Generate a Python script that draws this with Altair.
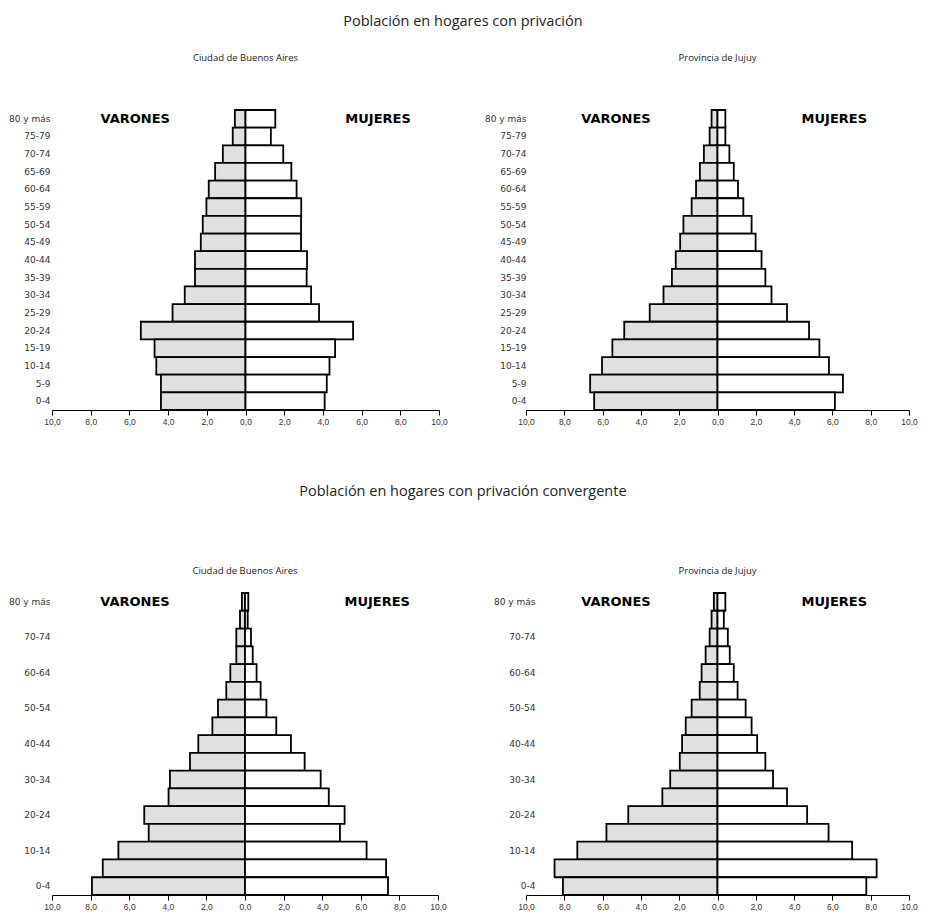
import altair as alt
import pandas as pd

ages = ["80 y más", "75-79", "70-74", "65-69", "60-64", "55-59", "50-54", "45-49",
        "40-44", "35-39", "30-34", "25-29", "20-24", "15-19", "10-14", "5-9", "0-4"]
ages_sparse = ["80 y más", "70-74", "60-64", "50-54", "40-44", "30-34", "20-24", "10-14", "0-4"]

# Población en hogares con privación
caba_priv_varones = [0.55, 0.66, 1.17, 1.57, 1.90, 2.02, 2.21, 2.31, 2.61, 2.61, 3.14, 3.77, 5.41, 4.70, 4.61, 4.37, 4.37]
caba_priv_mujeres = [1.54, 1.31, 1.95, 2.37, 2.64, 2.88, 2.87, 2.87, 3.18, 3.16, 3.39, 3.80, 5.56, 4.63, 4.34, 4.20, 4.09]
jujuy_priv_varones = [0.31, 0.41, 0.71, 0.92, 1.12, 1.35, 1.78, 1.95, 2.18, 2.38, 2.82, 3.54, 4.87, 5.49, 6.03, 6.65, 6.44]
jujuy_priv_mujeres = [0.41, 0.41, 0.62, 0.85, 1.07, 1.35, 1.78, 1.99, 2.30, 2.50, 2.82, 3.63, 4.78, 5.32, 5.82, 6.55, 6.13]

# Población en hogares con privación convergente
caba_conv_varones = [0.16, 0.26, 0.45, 0.45, 0.76, 0.97, 1.40, 1.69, 2.42, 2.85, 3.89, 3.96, 5.22, 4.99, 6.56, 7.37, 7.93]
caba_conv_mujeres = [0.17, 0.14, 0.31, 0.40, 0.60, 0.81, 1.11, 1.62, 2.38, 3.09, 3.92, 4.34, 5.16, 4.92, 6.30, 7.31, 7.41]
jujuy_conv_varones = [0.19, 0.31, 0.41, 0.62, 0.83, 0.93, 1.35, 1.66, 1.85, 1.97, 2.47, 2.88, 4.66, 5.80, 7.32, 8.51, 8.07]
jujuy_conv_mujeres = [0.41, 0.33, 0.54, 0.64, 0.85, 1.05, 1.47, 1.78, 2.07, 2.50, 2.90, 3.63, 4.68, 5.80, 7.03, 8.31, 7.77]

tick_values = [-10, -8, -6, -4, -2, 0, 2, 4, 6, 8, 10]
sex_labels = ["VARONES", "MUJERES"]

FONT = "Open Sans"


def panel(title, varones, mujeres, label_values, width, height, title_offset,
          label_pad, varones_x, mujeres_x):
    rows = []
    for a, v, m in zip(ages, varones, mujeres):
        rows.append({"edad": a, "sexo": "Varones", "valor": -v})
        rows.append({"edad": a, "sexo": "Mujeres", "valor": m})
    df = pd.DataFrame(rows)

    yaxis = alt.Axis(values=label_values, ticks=False, domain=False,
                     labelFontSize=9, labelColor="#333", labelFont="DejaVu Sans",
                     labelPadding=label_pad)
    xaxis = alt.Axis(values=tick_values, grid=False, tickSize=5, tickColor="black",
                     domainColor="black", domainWidth=1.2, labelFontSize=8.5,
                     labelColor="#333", labelFont="Liberation Sans", labelOverlap=False,
                     labelFlush=False,
                     labelExpr="replace(format(abs(datum.value), '.1f'), '.', ',')")
    yscale = alt.Scale(domain=ages, paddingInner=0, paddingOuter=0)
    xscale = alt.Scale(domain=[-10, 10], nice=False)

    bars = alt.Chart(df).mark_bar(stroke="black", strokeWidth=1.8).encode(
        x=alt.X("valor:Q", stack=None, title=None, scale=xscale, axis=xaxis),
        y=alt.Y("edad:N", sort=ages, title=None, scale=yscale, axis=yaxis),
        fill=alt.Fill("sexo:N", scale=alt.Scale(domain=["Varones", "Mujeres"],
                                                  range=["#e0e0e0", "white"]), legend=None),
    )
    lab_df = pd.DataFrame({"texto": sex_labels, "x": [varones_x, mujeres_x],
                           "edad": [ages[0], ages[0]]})
    labels = alt.Chart(lab_df).mark_text(font="DejaVu Sans", fontWeight="bold",
                                         fontSize=13, color="black").encode(
        x=alt.X("x:Q", title=None, scale=xscale, axis=xaxis),
        y=alt.Y("edad:N", sort=ages, title=None, scale=yscale, axis=yaxis),
        text="texto:N")
    return alt.layer(bars, labels).properties(
        width=width, height=height,
        title=alt.TitleParams(title, fontSize=9.5, font=FONT, fontWeight="normal",
                              color="#222", offset=title_offset, anchor="middle"),
    )


p1 = panel("Ciudad de Buenos Aires", caba_priv_varones, caba_priv_mujeres, ages,
           387, 300, 47, 2, -5.7, 6.85)
p2 = panel("Provincia de Jujuy", jujuy_priv_varones, jujuy_priv_mujeres, ages,
           383, 300, 47, 0, -5.3, 6.1)
p3 = panel("Ciudad de Buenos Aires", caba_conv_varones, caba_conv_mujeres, ages_sparse,
           386, 302, 17, 2, -5.7, 6.85)
p4 = panel("Provincia de Jujuy", jujuy_conv_varones, jujuy_conv_mujeres, ages_sparse,
           383, 302, 17, -9, -5.3, 6.1)

row1 = alt.hconcat(p1, p2, spacing=36).properties(
    title=alt.TitleParams("Población en hogares con privación", fontSize=14.5, font=FONT,
                          fontWeight="normal", color="#222", offset=23, anchor="middle"))
row2 = alt.hconcat(p3, p4, spacing=46).properties(
    title=alt.TitleParams("Población en hogares con privación convergente", fontSize=14.5,
                          font=FONT, fontWeight="normal", color="#222", offset=66,
                          anchor="middle"))

chart = alt.vconcat(row1, row2, spacing=58).properties(
    padding={"left": 0, "right": 0, "top": 6, "bottom": 5}
).configure(background="white").configure_view(stroke=None, strokeWidth=0)

chart.save("out.html", embed_options={"renderer": "svg", "actions": False})
